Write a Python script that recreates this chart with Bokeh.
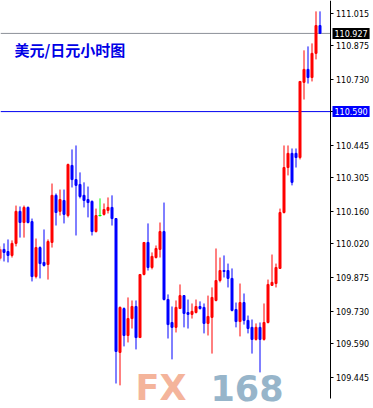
from bokeh.plotting import figure
from bokeh.models import Range1d, Label, FixedTicker, PrintfTickFormatter, ColumnDataSource, LinearAxis
from bokeh.embed import file_html
from bokeh.resources import INLINE

# ---- data (USD/JPY hourly candles) ----
bar_index = list(range(-1, 80))
opens = [109.957, 109.996, 109.987, 109.970, 110.022, 110.160, 110.112, 110.177, 110.116, 109.879,
         110.004, 109.940, 109.931, 110.026, 110.229, 110.160, 110.207, 110.142, 110.358, 110.297,
         110.276, 110.229, 110.211, 110.203, 110.073, 110.142, 110.147, 110.164, 110.177, 110.129,
         109.552, 109.741, 109.625, 109.698, 109.750, 109.616, 109.888, 110.026, 109.918, 109.961,
         109.996, 110.073, 109.780, 109.681, 109.660, 109.741, 109.797, 109.724, 109.716, 109.724,
         109.750, 109.746, 109.677, 109.703, 109.776, 109.862, 109.905, 109.905, 109.871, 109.737,
         109.685, 109.767, 109.690, 109.660, 109.608, 109.660, 109.608, 109.681, 109.841, 109.849,
         109.914, 110.155, 110.349, 110.410, 110.410, 110.392, 110.716, 110.772, 110.737, 110.841,
         110.961]
highs = [110.009, 110.022, 110.039, 110.035, 110.185, 110.181, 110.185, 110.181, 110.129, 110.043,
         110.009, 110.082, 110.039, 110.280, 110.237, 110.254, 110.254, 110.366, 110.427, 110.444,
         110.328, 110.285, 110.267, 110.207, 110.172, 110.216, 110.194, 110.220, 110.229, 110.129,
         109.750, 109.746, 109.789, 109.776, 109.776, 109.888, 110.026, 110.108, 109.983, 110.013,
         110.112, 110.198, 109.802, 109.750, 109.776, 109.845, 109.797, 109.780, 109.763, 109.780,
         109.772, 109.763, 109.797, 109.832, 110.000, 109.961, 109.970, 109.935, 109.914, 109.767,
         109.849, 109.806, 109.711, 109.694, 109.677, 109.681, 109.763, 109.866, 109.974, 109.935,
         110.172, 110.444, 110.444, 110.431, 110.431, 110.720, 110.854, 110.871, 110.884, 111.022,
         111.022]
lows = [109.948, 109.944, 109.940, 109.961, 110.009, 110.047, 110.047, 110.108, 109.858, 109.871,
        109.871, 109.922, 109.866, 110.004, 110.099, 110.142, 110.108, 110.134, 110.263, 110.056,
        110.216, 110.177, 110.134, 110.056, 110.069, 110.138, 110.142, 110.151, 110.099, 109.418,
        109.410, 109.578, 109.595, 109.655, 109.565, 109.616, 109.884, 109.905, 109.910, 109.957,
        109.961, 109.776, 109.612, 109.522, 109.638, 109.741, 109.660, 109.655, 109.698, 109.720,
        109.737, 109.634, 109.625, 109.547, 109.772, 109.854, 109.875, 109.832, 109.729, 109.660,
        109.621, 109.672, 109.634, 109.547, 109.603, 109.466, 109.603, 109.677, 109.841, 109.832,
        109.914, 110.151, 110.315, 110.272, 110.349, 110.384, 110.642, 110.711, 110.720, 110.815,
        110.927]
closes = [109.996, 109.983, 109.970, 110.022, 110.160, 110.112, 110.177, 110.112, 109.879, 110.004,
          109.935, 109.927, 110.030, 110.229, 110.155, 110.211, 110.147, 110.362, 110.297, 110.272,
          110.224, 110.207, 110.198, 110.073, 110.142, 110.142, 110.168, 110.177, 110.129, 109.556,
          109.746, 109.625, 109.698, 109.750, 109.616, 109.888, 110.026, 109.918, 109.966, 110.000,
          110.073, 109.780, 109.672, 109.660, 109.746, 109.797, 109.720, 109.716, 109.729, 109.750,
          109.741, 109.677, 109.707, 109.789, 109.862, 109.905, 109.901, 109.871, 109.733, 109.685,
          109.767, 109.690, 109.655, 109.608, 109.660, 109.608, 109.681, 109.845, 109.854, 109.918,
          110.155, 110.349, 110.410, 110.285, 110.392, 110.720, 110.772, 110.737, 110.841, 110.961,
          110.927]

tick_values = [111.015, 110.875, 110.730, 110.590, 110.445, 110.305, 110.160,
               110.020, 109.875, 109.730, 109.590, 109.445]
current_price = 110.927
level_price = 110.590
title_text = "美元/日元小时图"

# ---- styling ----
UP = "#ff0000"
DOWN = "#0000ff"
FLAT = "#00ff00"

X_START, X_END = -0.875, 92.375          # whole canvas width, 4 px per bar
Y_BOTTOM, Y_TOP = 109.3103, 111.0689     # whole canvas height
AXIS_X = 81.5                            # price scale position
CHART_BOTTOM = 109.3534                  # lower end of the chart window

colors = [UP if c > o else (DOWN if c < o else FLAT) for o, c in zip(opens, closes)]
src = ColumnDataSource(dict(
    x=bar_index, o=opens, h=highs, l=lows, c=closes,
    top=[max(o, c) for o, c in zip(opens, closes)],
    bot=[min(o, c) for o, c in zip(opens, closes)],
    color=colors,
))
doji_x = [x for x, o, c in zip(bar_index, opens, closes) if o == c]
doji_y = [c for o, c in zip(opens, closes) if o == c]

p = figure(width=373, height=408,
           x_range=Range1d(X_START, X_END),
           y_range=Range1d(Y_BOTTOM, Y_TOP),
           y_axis_location=None, x_axis_location=None,
           output_backend="svg", toolbar_location=None,
           min_border_left=0, min_border_top=0, min_border_bottom=0, min_border_right=0)
p.background_fill_color = "white"
p.border_fill_color = "white"
p.outline_line_color = None
p.xgrid.visible = False
p.ygrid.visible = False

ax = LinearAxis(fixed_location=AXIS_X, bounds=(CHART_BOTTOM, Y_TOP))
ax.ticker = FixedTicker(ticks=tick_values)
ax.formatter = PrintfTickFormatter(format="%.3f")
ax.axis_line_color = "black"
ax.major_tick_line_color = "black"
ax.major_tick_out = 3
ax.major_tick_in = 0
ax.minor_tick_line_color = None
ax.major_label_standoff = 3
ax.major_label_text_font = "DejaVu Sans"
ax.major_label_text_font_size = "8px"
ax.major_label_text_color = "black"
p.add_layout(ax, "right")

# price lines (up to the price scale)
p.segment(x0=[X_START], y0=[current_price], x1=[AXIS_X], y1=[current_price],
          line_color="#8c9098", line_width=1)
p.segment(x0=[X_START], y0=[level_price], x1=[AXIS_X], y1=[level_price],
          line_color="#0000f0", line_width=1)

# candles
p.segment(x0="x", y0="l", x1="x", y1="h", source=src, line_color="color", line_width=1)
p.vbar(x="x", width=0.5, bottom="bot", top="top", source=src,
       fill_color="color", line_color="color", line_width=1)
p.segment(x0=[x - 0.375 for x in doji_x], y0=doji_y, x1=[x + 0.375 for x in doji_x], y1=doji_y,
          line_color=FLAT, line_width=1)

# title
p.add_layout(Label(x=14, y=359, x_units="screen", y_units="screen", text=title_text,
                   text_font="Noto Sans CJK SC", text_font_style="bold", text_font_size="15px",
                   text_color="#0000e6", text_baseline="middle", text_align="left"))

# price tags
p.add_layout(Label(x=332, y=current_price, x_units="screen", y_units="data", text="110.927",
                   text_font="DejaVu Sans", text_font_size="8px", text_color="white",
                   text_baseline="middle", text_align="left",
                   background_fill_color="black", padding=2))
p.add_layout(Label(x=332, y=level_price, x_units="screen", y_units="data", text="110.590",
                   text_font="DejaVu Sans", text_font_size="8px", text_color="white",
                   text_baseline="middle", text_align="left",
                   background_fill_color="#0000ff", padding=2))

# watermark
p.add_layout(Label(x=135, y=21, x_units="screen", y_units="screen", text="FX",
                   text_font="DejaVu Sans", text_font_style="bold", text_font_size="35px",
                   text_color="#f4b49b", text_baseline="middle", text_align="left"))
p.add_layout(Label(x=210, y=21, x_units="screen", y_units="screen", text="168",
                   text_font="DejaVu Sans", text_font_style="bold", text_font_size="35px",
                   text_color="#97b5ca", text_baseline="middle", text_align="left"))

open("out.html", "w").write(file_html(p, INLINE))
